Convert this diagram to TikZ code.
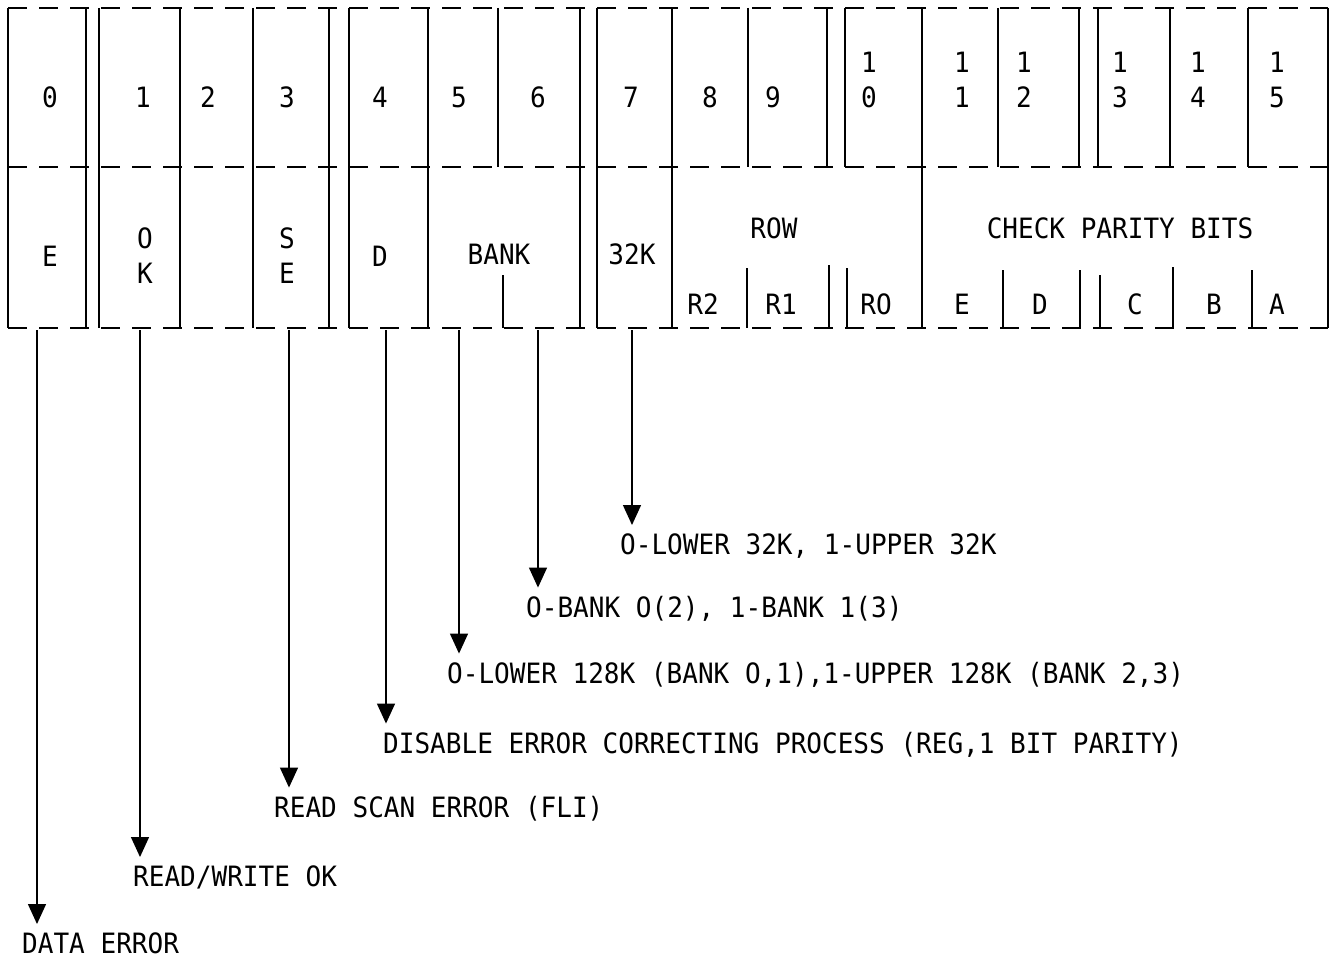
\documentclass[tikz,border=0pt]{standalone}
\usepackage{fontspec}
\newfontfamily\regfont[FakeStretch=0.93]{DejaVu Sans Mono}
\usetikzlibrary{arrows.meta,positioning}

\begin{document}
\begin{tikzpicture}[x=1pt,y=-1pt,
  every node/.style={font=\regfont\fontsize{28}{35}\selectfont,inner sep=0pt},
  dashline/.style={line width=2.4pt,dash pattern=on 19pt off 12pt},
  bitline/.style={line width=2.8pt},
  tapline/.style={line width=1.4pt,-{Triangle[width=18pt,length=20pt]},shorten >=8pt},
  note/.style={anchor=base west}
  ]
  \useasboundingbox (0,0) rectangle (1336,960);

  % the frame of the register
  \draw[dashline] (8,8) -- (1328,8);
  \draw[dashline] (8,167) -- (1328,167);
  \draw[dashline] (8,328) -- (1328,328);

  % dividers over the full height
  \foreach \x in {8,86,99,180,253,329,349,428,580,597,672,922,1328}
    \draw[bitline] (\x,8) -- (\x,328);
  % dividers of the bit numbers
  \foreach \x in {498,748,827,845,998,1079,1098,1170,1248}
    \draw[bitline] (\x,8) -- (\x,167);
  % short dividers of the fields
  \foreach \x/\y in {503/275,747/268,829/265,847/268,1003/270,1080/270,1100/275,1173/267,1252/270}
    \draw[bitline] (\x,\y) -- (\x,328);

  % the bit numbers
  \foreach \n/\x in {0/50,1/143,2/208,3/287,4/380,5/459,6/538,7/631,8/710,9/773}
    \node (b\n) at (\x,97) {\n};
  \foreach \n/\d/\x in {10/0/869,11/1/962,12/2/1024,13/3/1120,14/4/1198,15/5/1277}
    \node[align=center] (b\n) at (\x,80) {1\\\d};

  % the fields
  \node (fE) at (50,256) {E};
  \node[align=center] (fOK) at (145,256) {O\\K};
  \node[align=center] (fSE) at (287,256) {S\\E};
  \node (fD) at (380,256) {D};
  \node (fbank) at (499,254) {BANK};
  \node (f32k) at (632,254) {32K};
  \node (frow) at (774,228) {ROW};
  \node (fr2) at (703,304) {R2};
  \node (fr1) at (781,304) {R1};
  \node (fr0) at (876,304) {RO};
  \node (fcheck) at (1120,228) {CHECK PARITY BITS};
  \foreach \p/\x in {E/962,D/1040,C/1135,B/1214,A/1277}
    \node (fp\p) at (\x,304) {\p};

  % the notes
  \node[note] (n0) at (22,953) {DATA ERROR};
  \node[note] (n1) at (133,886) {READ/WRITE OK};
  \node[note] (n3) at (274,817) {READ SCAN ERROR (FLI)};
  \node[note] (n4) at (383,753) {DISABLE ERROR CORRECTING PROCESS (REG,1 BIT PARITY)};
  \node[note] (n5) at (447,683) {O-LOWER 128K (BANK O,1),1-UPPER 128K (BANK 2,3)};
  \node[note] (n6) at (526,617) {O-BANK O(2), 1-BANK 1(3)};
  \node[note] (n7) at (620,554) {O-LOWER 32K, 1-UPPER 32K};

  % the taps
  \foreach \n/\x in {0/37,1/140,3/289,4/386,5/459,6/538,7/632}
    \coordinate (t\n) at (\x,330);
  \foreach \n in {0,1,3,4,5,6,7}
    \draw[tapline] (t\n) -- (t\n |- n\n.north);
\end{tikzpicture}
\end{document}
